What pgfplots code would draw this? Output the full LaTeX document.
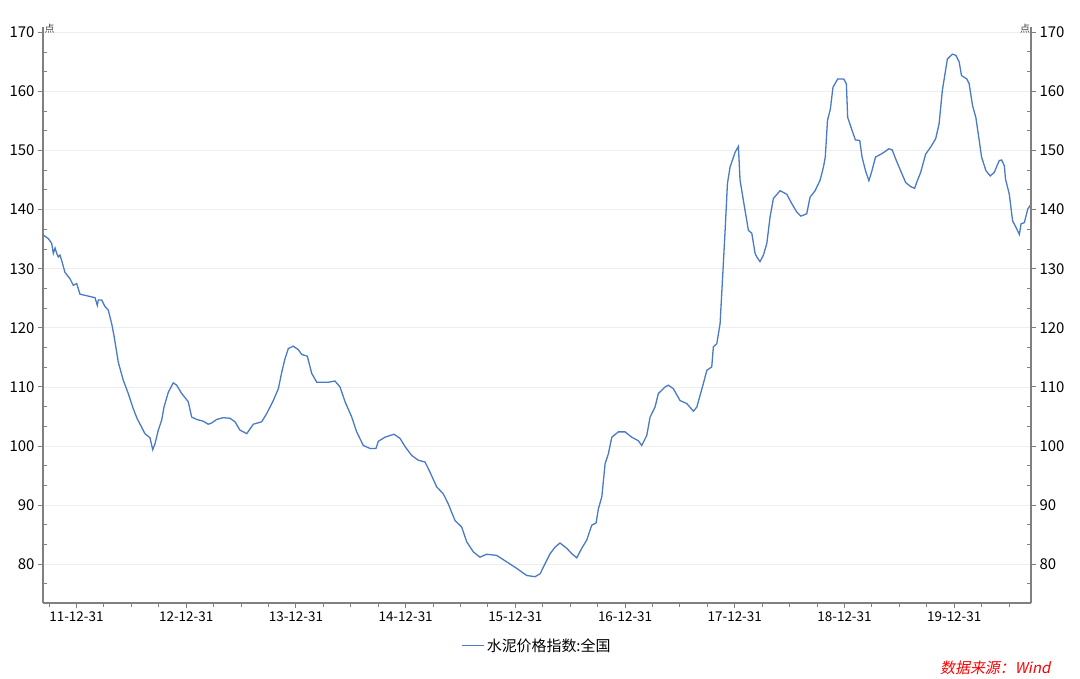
\documentclass[border=0pt]{standalone}
\usepackage{fontspec}
\setmainfont{Noto Sans CJK SC}
\newfontfamily\srcfont[FakeSlant=0.2]{Noto Sans CJK SC}
\usepackage{pgfplots}
\pgfplotsset{compat=1.18}
\definecolor{lineblue}{RGB}{72,122,200}
\definecolor{axgray}{RGB}{128,128,128}
\definecolor{gridgray}{RGB}{238,238,238}
\begin{document}
\begin{tikzpicture}[x=1bp,y=1bp]
\useasboundingbox (0,0) rectangle (1080,679);
\begin{axis}[
  at={(43bp,76bp)}, anchor=south west,
  width=988bp, height=576bp, scale only axis,
  xmin=-0.305, xmax=8.70, ymin=73.45, ymax=170.9,
  axis x line*=bottom, axis y line*=left,
  axis line style={axgray, line width=1.6bp, -},
  xtick={0,1,2,3,4,5,6,7,8},
  xticklabels={11-12-31,12-12-31,13-12-31,14-12-31,15-12-31,16-12-31,17-12-31,18-12-31,19-12-31},
  minor xtick={-0.25,0.25,0.5,0.75,1.25,1.5,1.75,2.25,2.5,2.75,3.25,3.5,3.75,4.25,4.5,4.75,5.25,5.5,5.75,6.25,6.5,6.75,7.25,7.5,7.75,8.25,8.5},
  ytick={80,90,100,110,120,130,140,150,160,170},
  minor ytick={76.667,83.333,86.667,93.333,96.667,103.333,106.667,113.333,116.667,123.333,126.667,133.333,136.667,143.333,146.667,153.333,156.667,163.333,166.667},
  tick align=outside,
  major tick length=5bp, minor tick length=4bp,
  tick style={axgray, line width=1bp},
  minor y tick style={xshift=4bp},
  ymajorgrids, major grid style={gridgray, line width=0.8bp},
  /pgf/number format/assume math mode=true,
  yticklabel style={font=\fontsize{15}{18}\selectfont, text=black},
  xticklabel style={font=\fontsize{13.5}{16}\selectfont, text=black},
  legend style={at={(0.5,-0.056)}, anchor=north, draw=none, fill=none, font=\fontsize{15}{18}\selectfont, inner sep=1bp},
  legend image code/.code={\draw[#1] (0bp,0bp) -- (22bp,0bp);},
  clip=true,
]
\addplot[lineblue, line width=1.3bp] coordinates {
(-0.303,135.7) (-0.257,135.1) (-0.226,134.3) (-0.211,132.6) (-0.195,133.5) (-0.180,132.6) (-0.166,132.0) (-0.150,132.3) (-0.135,131.4) (-0.105,129.4) (-0.059,128.3) (-0.029,127.2) (0.002,127.5) (0.032,125.7) (0.169,125.1) (0.190,123.8) (0.199,124.7) (0.230,124.7) (0.260,123.6) (0.290,123.0) (0.321,120.7) (0.342,118.7) (0.381,114.2) (0.427,111.1) (0.472,108.9) (0.518,106.3) (0.554,104.6) (0.594,103.2) (0.624,102.1) (0.670,101.4) (0.695,99.4) (0.716,100.4) (0.746,102.7) (0.777,104.4) (0.798,106.6) (0.837,109.1) (0.882,110.7) (0.913,110.3) (0.959,108.9) (1.019,107.5) (1.050,104.9) (1.096,104.5) (1.156,104.2) (1.201,103.7) (1.232,103.9) (1.278,104.5) (1.338,104.8) (1.399,104.7) (1.445,104.1) (1.490,102.7) (1.552,102.1) (1.612,103.7) (1.688,104.1) (1.734,105.5) (1.794,107.7) (1.840,109.7) (1.871,112.5) (1.901,114.8) (1.931,116.5) (1.976,116.9) (2.022,116.3) (2.053,115.5) (2.104,115.2) (2.144,112.3) (2.190,110.8) (2.295,110.8) (2.356,111.0) (2.402,110.0) (2.448,107.5) (2.509,104.9) (2.554,102.4) (2.614,100.1) (2.675,99.6) (2.730,99.6) (2.751,100.8) (2.812,101.5) (2.894,102.0) (2.949,101.3) (2.995,99.9) (3.056,98.4) (3.116,97.6) (3.177,97.3) (3.222,95.6) (3.283,93.1) (3.344,91.9) (3.389,90.2) (3.450,87.4) (3.511,86.3) (3.557,83.8) (3.617,82.1) (3.678,81.2) (3.739,81.7) (3.830,81.5) (3.922,80.4) (4.013,79.3) (4.104,78.1) (4.180,77.9) (4.226,78.4) (4.271,80.1) (4.317,81.8) (4.362,82.9) (4.407,83.6) (4.469,82.7) (4.514,81.8) (4.560,81.1) (4.605,82.7) (4.651,84.1) (4.696,86.6) (4.736,87.0) (4.757,89.4) (4.788,91.4) (4.818,97.0) (4.848,98.7) (4.879,101.5) (4.939,102.4) (5.000,102.4) (5.061,101.5) (5.121,100.9) (5.152,100.1) (5.198,101.8) (5.228,104.9) (5.273,106.6) (5.304,108.9) (5.365,110.0) (5.395,110.3) (5.440,109.7) (5.501,107.7) (5.562,107.2) (5.623,105.9) (5.654,106.6) (5.684,108.6) (5.714,110.6) (5.745,112.8) (5.790,113.4) (5.805,116.8) (5.836,117.3) (5.866,120.7) (5.891,129.2) (5.912,136.5) (5.933,144.4) (5.957,147.2) (6.003,149.7) (6.033,150.7) (6.048,145.0) (6.078,141.6) (6.124,136.5) (6.155,136.0) (6.185,132.6) (6.200,132.0) (6.230,131.2) (6.261,132.3) (6.292,134.3) (6.322,138.8) (6.352,141.9) (6.413,143.2) (6.474,142.6) (6.520,141.0) (6.565,139.6) (6.602,138.9) (6.656,139.3) (6.686,142.1) (6.732,143.2) (6.778,145.0) (6.808,147.2) (6.825,148.9) (6.845,155.1) (6.871,157.0) (6.895,160.7) (6.938,162.1) (6.993,162.1) (7.017,161.3) (7.029,155.6) (7.069,153.4) (7.099,151.8) (7.139,151.7) (7.160,148.9) (7.191,146.6) (7.222,144.9) (7.246,146.3) (7.283,148.9) (7.344,149.5) (7.405,150.3) (7.435,150.1) (7.466,148.6) (7.511,146.6) (7.557,144.6) (7.603,143.9) (7.639,143.6) (7.664,144.9) (7.694,146.3) (7.740,149.4) (7.786,150.6) (7.831,152.0) (7.862,154.5) (7.892,160.2) (7.938,165.5) (7.983,166.3) (8.015,166.1) (8.045,165.0) (8.066,162.7) (8.115,162.1) (8.136,161.3) (8.167,157.6) (8.197,155.6) (8.228,151.7) (8.249,148.9) (8.289,146.6) (8.328,145.7) (8.365,146.3) (8.410,148.3) (8.432,148.4) (8.457,147.4) (8.467,145.2) (8.502,142.6) (8.532,138.1) (8.563,137.0) (8.594,135.8) (8.609,137.6) (8.639,137.8) (8.670,140.1) (8.700,140.9) (8.707,143.0)
};
\addlegendentry{水泥价格指数:全国}
\end{axis}
\begin{axis}[
  at={(43bp,76bp)}, anchor=south west,
  width=988bp, height=576bp, scale only axis,
  xmin=-0.305, xmax=8.70, ymin=73.45, ymax=170.9,
  axis x line=none, axis y line*=right,
  axis line style={axgray, line width=1.6bp, -},
  ytick={80,90,100,110,120,130,140,150,160,170},
  minor ytick={76.667,83.333,86.667,93.333,96.667,103.333,106.667,113.333,116.667,123.333,126.667,133.333,136.667,143.333,146.667,153.333,156.667,163.333,166.667},
  tick align=outside,
  major tick length=5bp, minor tick length=4bp,
  tick style={axgray, line width=1bp},
  minor y tick style={xshift=-4bp},
  /pgf/number format/assume math mode=true,
  yticklabel style={font=\fontsize{15}{18}\selectfont, text=black},
]
\end{axis}
\node[inner sep=0pt, font=\fontsize{10}{12}\selectfont, text=black!75] at (49.5,650.5) {点};
\node[inner sep=0pt, font=\fontsize{10}{12}\selectfont, text=black!75] at (1025,650.5) {点};
\node[anchor=east, text=red, font=\srcfont\fontsize{15}{18}\selectfont] at (1054,11) {数据来源：Wind};
\end{tikzpicture}
\end{document}
